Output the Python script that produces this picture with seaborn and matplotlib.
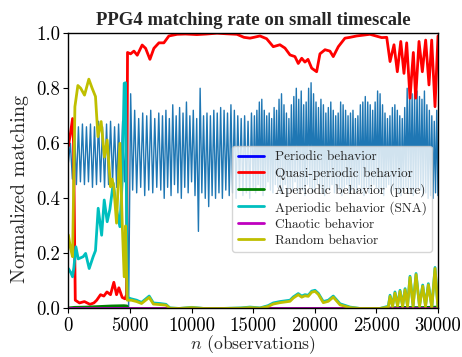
import numpy as np
import matplotlib
matplotlib.use("Agg")
import matplotlib.pyplot as plt
import seaborn as sns

# ---------------- data ----------------
# oscillating matching signal (troughs / peaks), three sampling segments
oscA_troughs = [0.53, 0.47, 0.45, 0.46, 0.45, 0.46, 0.44, 0.45, 0.46, 0.44, 0.45, 0.46,
                0.44, 0.45, 0.46, 0.00, 0.43, 0.42, 0.44, 0.41, 0.43, 0.42, 0.44]
oscA_peaks = [0.60, 0.67, 0.66, 0.67, 0.66, 0.67, 0.66, 0.68, 0.66, 0.67, 0.68, 0.66,
              0.67, 0.68, 0.67, 0.78, 0.72, 0.69, 0.71, 0.70, 0.72, 0.69, 0.71]
oscB_troughs = [0.43, 0.40, 0.44, 0.41, 0.45, 0.42, 0.40, 0.44, 0.42, 0.46, 0.41, 0.28,
                0.42, 0.40, 0.37, 0.41, 0.40, 0.42, 0.40, 0.43, 0.41, 0.42, 0.40, 0.43,
                0.41, 0.42, 0.40]
oscB_peaks = [0.70, 0.72, 0.69, 0.74, 0.70, 0.73, 0.71, 0.75, 0.70, 0.72, 0.69, 0.80,
              0.70, 0.71, 0.70, 0.72, 0.71, 0.73, 0.72, 0.71, 0.74, 0.72, 0.70, 0.69,
              0.70, 0.68, 0.71]
oscC_troughs = [0.44, 0.42, 0.45, 0.43, 0.41, 0.44, 0.46, 0.43, 0.42, 0.45, 0.44, 0.42,
                0.43, 0.45, 0.41, 0.44, 0.43, 0.46, 0.42, 0.44, 0.43, 0.41, 0.45, 0.44,
                0.42, 0.43, 0.45, 0.44, 0.42, 0.41, 0.44, 0.43, 0.45, 0.42, 0.44, 0.43,
                0.41, 0.44, 0.45, 0.42, 0.43, 0.44, 0.42, 0.45, 0.43, 0.41, 0.44, 0.42,
                0.43, 0.45, 0.44, 0.42, 0.43, 0.41, 0.44, 0.45, 0.42, 0.43, 0.44, 0.42,
                0.41, 0.43, 0.44, 0.42, 0.43, 0.41, 0.42, 0.44, 0.43, 0.41, 0.42, 0.40,
                0.41, 0.40, 0.42, 0.41]
oscC_peaks = [0.70, 0.72, 0.75, 0.76, 0.72, 0.70,
              0.71, 0.69, 0.73, 0.72, 0.76, 0.78, 0.74, 0.71, 0.69, 0.74, 0.77, 0.80, 0.76,
              0.79, 0.74, 0.75, 0.80, 0.82, 0.78, 0.75, 0.73, 0.76, 0.74, 0.71, 0.73, 0.75, 0.72,
              0.70, 0.71, 0.75, 0.74, 0.72, 0.70, 0.71, 0.72, 0.69, 0.70, 0.74, 0.75, 0.77, 0.75,
              0.74, 0.72, 0.75, 0.79, 0.78, 0.74, 0.71, 0.69, 0.70, 0.73, 0.74, 0.72, 0.70,
              0.69, 0.73, 0.80, 0.80, 0.78, 0.78, 0.79, 0.77, 0.76, 0.79, 0.74, 0.72, 0.70, 0.68, 0.72]

quasi_x = [0, 150, 340, 420, 560, 900, 1300, 1750, 2070, 2300, 2610, 2880, 3130, 3420, 3690,
           3910, 4100, 4370, 4590, 4720, 4800, 5050, 5320, 5590, 5990, 6270, 6620, 6940, 7350,
           7750, 8160, 8830, 9500, 10430, 11200, 12060, 12800, 13680, 14250, 14740, 15060,
           15550, 16090, 16630, 17170, 17580, 17990, 18390, 18660, 18940, 19200, 19450, 19750,
           20150, 20420, 20830, 21230, 21500, 21910, 22450, 22860, 23400, 24480, 25430, 25840,
           26110, 26430, 26700, 26980, 27240, 27460, 27730, 28000, 28190, 28460, 28730, 29000,
           29270, 29490, 29760, 30000]
quasi_y = [0.59, 0.63, 0.69, 0.60, 0.03, 0.02, 0.025, 0.015, 0.02, 0.03, 0.05, 0.045, 0.06,
           0.05, 0.095, 0.05, 0.075, 0.04, 0.035, 0.05, 0.93, 0.925, 0.935, 0.92, 0.957, 0.945,
           0.905, 0.945, 0.965, 0.965, 0.99, 0.996, 0.997, 0.995, 0.997, 1.0, 0.998, 0.996,
           0.985, 0.982, 0.985, 0.99, 0.98, 0.951, 0.958, 0.946, 0.921, 0.915, 0.89, 0.909,
           0.895, 0.905, 0.873, 0.86, 0.925, 0.94, 0.935, 0.915, 0.951, 0.982, 0.985, 0.99,
           0.996, 0.984, 0.985, 0.897, 0.958, 0.86, 0.97, 0.854, 0.965, 0.764, 0.93, 0.764,
           0.97, 0.86, 0.975, 0.812, 0.975, 0.733, 0.99]

sna_x = [0, 200, 340, 450, 610, 800, 1200, 1400, 1690, 2010, 2200, 2420, 2700, 2910, 3150,
         3370, 3640, 3910, 4180, 4370, 4530, 4640, 4780, 5100, 5540, 5940, 6560, 6900, 7430,
         7920, 8240, 9000, 10000, 11000, 12500, 14000, 14740, 15550, 16200, 16630, 17170,
         17990, 18260, 18660, 18940, 19200, 19470, 19750, 20020, 20290, 20690, 21100, 21500,
         22050, 22860, 23670, 25290, 25970, 26110, 26310, 26510, 26720, 26920, 27130, 27330,
         27530, 27730, 27980, 28220, 28500, 28760, 28990, 29220, 29500, 29760, 30000]
sna_y = [0.145, 0.13, 0.115, 0.15, 0.224, 0.18, 0.188, 0.20, 0.145, 0.188, 0.21, 0.364,
         0.266, 0.394, 0.315, 0.36, 0.455, 0.36, 0.297, 0.466, 0.818, 0.82, 0.04, 0.035,
         0.03, 0.022, 0.045, 0.02, 0.018, 0.015, 0.002, 0.0, 0.004, 0.0, 0.0, 0.002, 0.005,
         0.002, 0.01, 0.02, 0.025, 0.03, 0.042, 0.054, 0.045, 0.05, 0.048, 0.063, 0.066,
         0.055, 0.025, 0.03, 0.045, 0.017, 0.005, 0.0, 0.0, 0.008, 0.048, 0.01, 0.06, 0.012,
         0.066, 0.01, 0.072, 0.01, 0.117, 0.01, 0.127, 0.01, 0.085, 0.01, 0.09, 0.005, 0.149,
         0.0]

random_x = [0, 170, 340, 530, 770, 1000, 1310, 1660, 1930, 2200, 2400, 2660, 2930, 3150,
            3420, 3550, 3690, 3910, 4180, 4370, 4530, 4640, 4780, 5100, 5540, 5940, 6560,
            6900, 7430, 7920, 8240, 9000, 10000, 11000, 12500, 14000, 14740, 15550, 16200,
            16630, 17170, 17990, 18260, 18660, 18940, 19200, 19470, 19750, 20020, 20290,
            20690, 21100, 21500, 22050, 22860, 23670, 25290, 25970, 26110, 26310, 26510,
            26720, 26920, 27130, 27330, 27530, 27730, 27980, 28220, 28500, 28760, 28990,
            29220, 29500, 29760, 30000]
random_y = [0.267, 0.22, 0.188, 0.733, 0.81, 0.80, 0.775, 0.833, 0.80, 0.77, 0.624, 0.679,
            0.55, 0.612, 0.442, 0.47, 0.44, 0.31, 0.60, 0.31, 0.115, 0.30, 0.03, 0.03, 0.025,
            0.018, 0.04, 0.016, 0.014, 0.012, 0.001, 0.0, 0.003, 0.0, 0.0, 0.001, 0.003,
            0.001, 0.007, 0.016, 0.021, 0.026, 0.038, 0.05, 0.041, 0.046, 0.044, 0.059,
            0.062, 0.051, 0.021, 0.026, 0.041, 0.013, 0.003, 0.0, 0.0, 0.005, 0.044, 0.007,
            0.056, 0.009, 0.062, 0.007, 0.068, 0.007, 0.113, 0.007, 0.123, 0.007, 0.081,
            0.007, 0.086, 0.003, 0.145, 0.0]

pure_x = [0, 500, 1500, 2500, 3500, 4500, 4750, 4850, 25500, 27000, 28500, 30000]
pure_y = [0.002, 0.004, 0.005, 0.007, 0.009, 0.01, 0.009, 0.0, 0.0, 0.004, 0.003, 0.005]

flat_x = [0, 30000]
periodic_y = [0.0, 0.0]
chaotic_y = [0.0, 0.0]

x_ticks = [0, 5000, 10000, 15000, 20000, 25000, 30000]
y_ticks = [0.0, 0.2, 0.4, 0.6, 0.8, 1.0]

# ---------------- build oscillating series ----------------
def interleave(tr, pk):
    out = []
    for i, t in enumerate(tr):
        out.append(t)
        if i < len(pk):
            out.append(pk[i])
    return out

osc_y = (interleave(oscA_troughs, oscA_peaks) + interleave(oscB_troughs, oscB_peaks)
         + interleave(oscC_troughs, oscC_peaks))
osc_x = np.concatenate([np.linspace(0, 7500, 2 * len(oscA_troughs), endpoint=False),
                        np.linspace(7500, 15000, 2 * len(oscB_troughs), endpoint=False),
                        np.linspace(15000, 30000, len(oscC_troughs) + len(oscC_peaks))])

# ---------------- style ----------------
sns.set_theme(style="ticks", color_codes=False)
plt.rcParams["font.family"] = ["cmr10"]
plt.rcParams["mathtext.fontset"] = "cm"
plt.rcParams["axes.formatter.use_mathtext"] = True
plt.rcParams["axes.unicode_minus"] = False

C_B, C_R, C_G = "#0000ff", "#ff0000", "#008000"
C_C, C_M, C_Y = "#00bfbf", "#bf00bf", "#bfbf00"

fig = plt.figure(figsize=(4.62, 3.57), dpi=100)
ax = fig.add_axes([0.148, 0.136, 0.800, 0.771])

sns.lineplot(x=osc_x, y=osc_y, color="#1f77b4", lw=1.0, estimator=None, sort=False, ax=ax)
sns.lineplot(x=flat_x, y=periodic_y, color=C_B, lw=2, label="Periodic behavior", ax=ax)
sns.lineplot(x=quasi_x, y=quasi_y, color=C_R, lw=2, label="Quasi-periodic behavior", ax=ax)
sns.lineplot(x=pure_x, y=pure_y, color=C_G, lw=2, label="Aperiodic behavior (pure)", ax=ax)
sns.lineplot(x=sna_x, y=sna_y, color=C_C, lw=2, label="Aperiodic behavior (SNA)", ax=ax)
sns.lineplot(x=flat_x, y=chaotic_y, color=C_M, lw=2, label="Chaotic behavior", ax=ax)
sns.lineplot(x=random_x, y=random_y, color=C_Y, lw=2, label="Random behavior", ax=ax)

ax.set_xlim(0, 30000)
ax.set_ylim(0, 1.0)
ax.set_xticks(x_ticks)
ax.set_xticklabels([str(t) for t in x_ticks])
ax.set_yticks(y_ticks)
ax.set_yticklabels([f"{t:.1f}" for t in y_ticks])
ax.tick_params(labelsize=13.5, length=3.5, width=0.8, colors="black", pad=2.5)
for s in ax.spines.values():
    s.set_visible(True)
    s.set_color("black")
    s.set_linewidth(1.0)

ax.set_xlabel("$n$ (observations)", fontsize=12.7, labelpad=-1)
ax.set_ylabel("Normalized matching", fontsize=14.5)
ax.yaxis.set_label_coords(-0.107, 0.435)
ax.set_title("PPG4 matching rate on small timescale", fontsize=13.5, fontweight="bold",
             family="Liberation Serif", pad=6)

leg = ax.legend(loc="lower right", bbox_to_anchor=(0.984, 0.205), borderaxespad=0,
                fontsize=9.6, frameon=True, fancybox=True, labelspacing=0.28,
                handlelength=2.0, borderpad=0.4)
leg.get_frame().set_edgecolor("0.8")

fig.savefig("out.png", dpi=100)
